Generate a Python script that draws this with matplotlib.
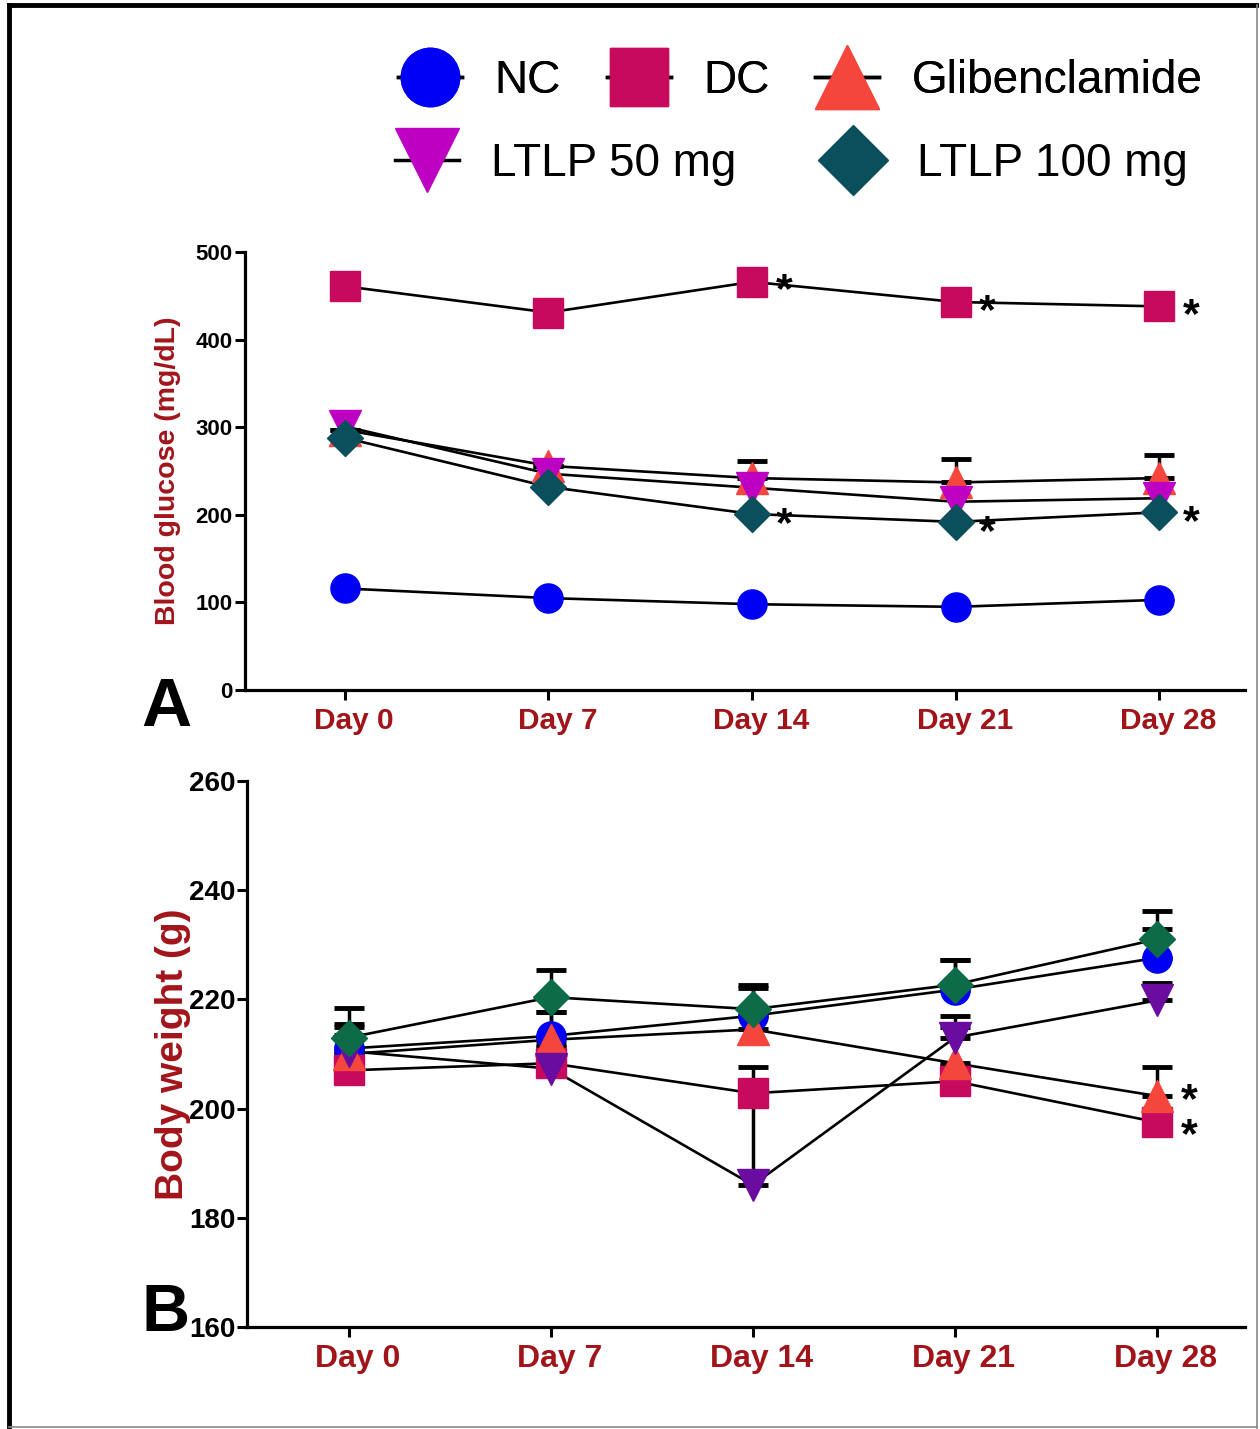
import matplotlib.pyplot as plt
import matplotlib.transforms as mtransforms
import numpy as np
from matplotlib.lines import Line2D

## Data
days = ["Day 0", "Day 7", "Day 14", "Day 21", "Day 28"]
groups = ["NC", "DC", "Glibenclamide", "LTLP 50 mg", "LTLP 100 mg"]

# Panel A - blood glucose (mg/dL)
glu_nc = [116, 105, 98, 95, 103]
glu_dc = [461, 431, 466, 443, 438]
glu_glib = [297, 256, 242, 237, 242]
glu_l50 = [301, 247, 231, 215, 219]
glu_l100 = [288, 232, 201, 192, 203]
glu_err_glib = [0, 0, 20, 27, 26]

# Panel B - body weight (g)
bw_nc = [211.0, 213.3, 217.0, 221.8, 227.6]
bw_dc = [207.0, 208.3, 202.8, 205.0, 197.5]
bw_glib = [210.0, 212.6, 214.5, 208.3, 202.3]
bw_l50 = [210.5, 207.3, 186.0, 213.0, 219.8]
bw_l100 = [213.0, 220.4, 218.2, 222.7, 231.0]
bw_err_nc = [4.5, 4.3, 5.0, 5.4, 5.2]
bw_err_dc = [3.0, 3.3, 4.8, 3.0, 2.0]
bw_err_glib = [5.0, 5.0, 4.0, 6.6, 5.4]
bw_err_l50 = [3.0, 4.0, 17.2, 3.9, 3.2]
bw_err_l100 = [5.4, 4.9, 4.5, 4.5, 5.2]

# significance marks (group, day index)
sig_a = [("DC", 2), ("DC", 3), ("DC", 4), ("LTLP 100 mg", 2), ("LTLP 100 mg", 3), ("LTLP 100 mg", 4)]
sig_b = [("Glibenclamide", 4), ("DC", 4)]

## Styles
darkred = "#A1141A"
markers = {"NC": "o", "DC": "s", "Glibenclamide": "^", "LTLP 50 mg": "v", "LTLP 100 mg": "D"}
colors_a = {"NC": "#0000F5", "DC": "#C80A5E", "Glibenclamide": "#F5463E",
            "LTLP 50 mg": "#BE00C2", "LTLP 100 mg": "#0B4F5C"}
colors_b = {"NC": "#0000F5", "DC": "#C80A5E", "Glibenclamide": "#F5463E",
            "LTLP 50 mg": "#6A0CA0", "LTLP 100 mg": "#0E6B47"}
msize = {"NC": 21, "DC": 21, "Glibenclamide": 23, "LTLP 50 mg": 23, "LTLP 100 mg": 18}

plt.rcParams['font.family'] = ['Liberation Sans', 'DejaVu Sans']

fig = plt.figure(figsize=(12.6, 14.29), dpi=100)

# frame around figure
fig.add_artist(Line2D([0.0075, 0.0075], [0.002, 0.9965], color="black", lw=3.5))
fig.add_artist(Line2D([0.0075, 0.997], [0.9965, 0.9965], color="black", lw=3.5))
fig.add_artist(Line2D([0.9975, 0.9975], [0.001, 0.9965], color="#888888", lw=1.2))
fig.add_artist(Line2D([0.0075, 0.9975], [0.0015, 0.0015], color="#888888", lw=1.2))

x = np.arange(len(days))
label_shift = mtransforms.ScaledTranslation(0.09, 0, fig.dpi_scale_trans)


def draw_panel(ax, series, errs, colors, sigs, star_dy):
    for name, vals in series.items():
        ax.plot(x, vals, color="black", lw=1.9, zorder=2)
    for name, err in errs.items():
        vals = np.array(series[name])
        ax.errorbar(x, vals, yerr=[np.zeros(len(err)), err], fmt="none", ecolor="black",
                    elinewidth=2.5, capsize=11, capthick=3.5, zorder=2.5)
    for name, vals in series.items():
        ax.plot(x, vals, ls="none", marker=markers[name], ms=msize[name],
                mfc=colors[name], mec=colors[name], zorder=3)
    for k, (name, i) in enumerate(sigs):
        ax.annotate("*", (x[i], series[name][i]), xytext=(23, star_dy[k]), textcoords="offset points",
                    ha="center", va="center", fontsize=31, fontweight="bold", zorder=5)
    for s in ["top", "right"]:
        ax.spines[s].set_visible(False)
    for s in ["left", "bottom"]:
        ax.spines[s].set_linewidth(2.3)
    ax.tick_params(direction="out", length=7, width=2.2)
    ax.set_xticks(x)


## Panel A
axA = fig.add_axes([0.1944, 0.5171, 0.7937, 0.3065])
draw_panel(axA,
           {"NC": glu_nc, "DC": glu_dc, "Glibenclamide": glu_glib,
            "LTLP 50 mg": glu_l50, "LTLP 100 mg": glu_l100},
           {"Glibenclamide": glu_err_glib},
           colors_a, sig_a, [-7, -7, -7, -8, -8, -8])
axA.set_xlim(-0.49, 4.42)
axA.set_ylim(0, 500)
axA.set_yticks([0, 100, 200, 300, 400, 500])
axA.tick_params(axis="y", pad=2)
axA.tick_params(axis="x", pad=5)
axA.set_xticklabels(days, fontsize=21.5, fontweight="bold", color=darkred)
for lab in axA.get_xticklabels():
    lab.set_transform(lab.get_transform() + label_shift)
for lab in axA.get_yticklabels():
    lab.set_fontsize(16)
    lab.set_fontweight("bold")
axA.set_ylabel("Blood glucose (mg/dL)", fontsize=20.5, fontweight="bold", color=darkred, labelpad=10)
fig.text(0.132, 0.5045, "A", fontsize=50, fontweight="bold", ha="center", va="center")

## Panel B
narrow = ['Liberation Sans Narrow', 'Liberation Sans']
axB = fig.add_axes([0.196, 0.0714, 0.792, 0.3821])
draw_panel(axB,
           {"NC": bw_nc, "DC": bw_dc, "Glibenclamide": bw_glib,
            "LTLP 50 mg": bw_l50, "LTLP 100 mg": bw_l100},
           {"NC": bw_err_nc, "DC": bw_err_dc, "Glibenclamide": bw_err_glib,
            "LTLP 50 mg": bw_err_l50, "LTLP 100 mg": bw_err_l100},
           colors_b, sig_b, [-4, -10])
axB.set_xlim(-0.505, 4.436)
axB.set_ylim(160, 260)
axB.set_yticks([160, 180, 200, 220, 240, 260])
axB.tick_params(axis="y", pad=1)
axB.tick_params(axis="x", pad=5)
axB.set_xticklabels(days, fontsize=23, fontweight="bold", color=darkred, family=narrow)
for lab in axB.get_xticklabels():
    lab.set_transform(lab.get_transform() + label_shift)
for lab in axB.get_yticklabels():
    lab.set_fontsize(20)
    lab.set_fontweight("bold")
    lab.set_family(narrow)
axB.set_ylabel("Body weight (g)", fontsize=28, fontweight="bold", color=darkred, labelpad=-1)
fig.text(0.1315, 0.0805, "B", fontsize=48, fontweight="bold", ha="center", va="center")

## Legend
def handle(name):
    return Line2D([], [], color="black", lw=2.5, marker=markers[name],
                  ms=msize[name] * 2.0, mfc=colors_a[name], mec=colors_a[name])

leg1 = fig.legend([handle(g) for g in groups[:3]], groups[:3], loc="center left",
                  bbox_to_anchor=(0.316, 0.9435), ncol=3, frameon=False, fontsize=33,
                  handlelength=1.4, handletextpad=0.7, columnspacing=1.0,
                  borderpad=0, borderaxespad=0)
leg2 = fig.legend([handle(g) for g in groups[3:]], groups[3:], loc="center left",
                  bbox_to_anchor=(0.3135, 0.8855), ncol=2, frameon=False, fontsize=33,
                  handlelength=1.4, handletextpad=0.7, columnspacing=1.83,
                  borderpad=0, borderaxespad=0)
fig.add_artist(leg1)

fig.savefig("out.png", dpi=100)
